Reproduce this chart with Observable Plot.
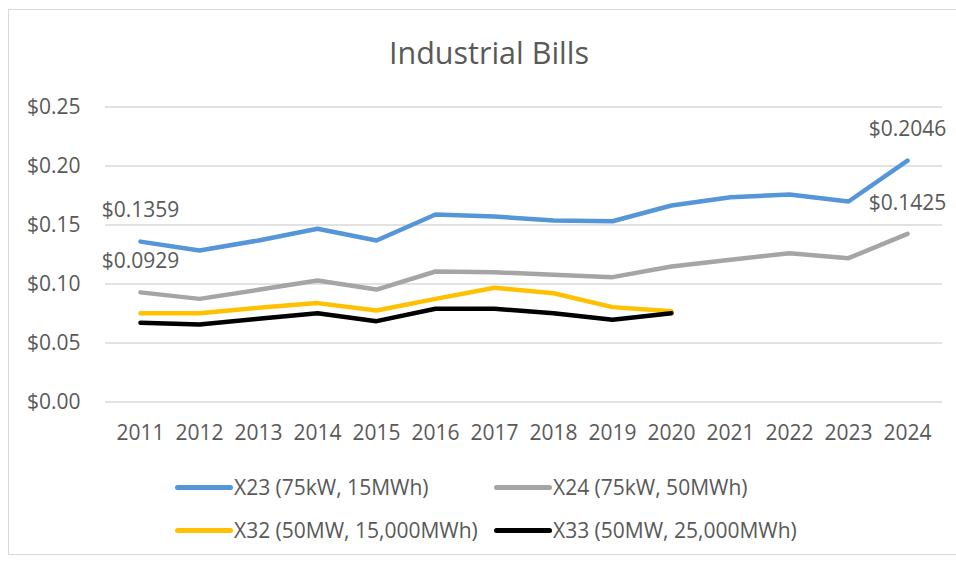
<!DOCTYPE html>
<html>
<head>
<meta charset="utf-8">
<script src="https://cdn.jsdelivr.net/npm/d3@7"></script>
<script src="https://cdn.jsdelivr.net/npm/@observablehq/plot@0.6"></script>
<style>
  html, body { margin: 0; padding: 0; background: #fff; }
  body { width: 956px; height: 561px; position: relative; overflow: hidden; font-family: "Open Sans", sans-serif; color: #595959; }
  #frame { position: absolute; left: 8px; top: 9px; width: 948px; height: 546px; border-left: 1px solid #d9d9d9; border-top: 1px solid #d9d9d9; border-bottom: 1px solid #d9d9d9; border-right: none; box-sizing: border-box; }
  #title { position: absolute; left: 0; top: 32px; width: 978px; text-align: center; font-size: 30.5px; line-height: 40px; color: #595959; }
  #chart { position: absolute; left: 0; top: 0; }
  .leg { position: absolute; display: flex; align-items: center; font-size: 21px; line-height: 30px; white-space: nowrap; color: #595959; }
  .sw { display: inline-block; width: 58px; height: 5px; border-radius: 3px; margin-right: 1px; }
</style>
</head>
<body>
<div id="frame"></div>
<div id="title">Industrial Bills</div>
<div id="chart"></div>
<div id="legend"></div>
<script>
const years = ["2011","2012","2013","2014","2015","2016","2017","2018","2019","2020","2021","2022","2023","2024"];
const seriesNames = ["X23 (75kW, 15MWh)", "X24 (75kW, 50MWh)", "X32 (50MW, 15,000MWh)", "X33 (50MW, 25,000MWh)"];
const seriesColors = ["#5596d8", "#a5a5a5", "#ffc000", "#000000"];
const x23 = [0.1359, 0.1284, 0.1369, 0.1468, 0.1369, 0.1589, 0.1572, 0.1538, 0.1532, 0.1665, 0.1736, 0.1758, 0.1699, 0.2046];
const x24 = [0.0929, 0.0874, 0.0951, 0.1030, 0.0953, 0.1106, 0.1100, 0.1078, 0.1058, 0.1148, 0.1205, 0.1261, 0.1219, 0.1425];
const x32 = [0.0753, 0.0753, 0.0798, 0.0838, 0.0775, 0.0874, 0.0968, 0.0922, 0.0804, 0.0770];
const x33 = [0.0671, 0.0657, 0.0705, 0.0753, 0.0685, 0.0790, 0.0790, 0.0753, 0.0697, 0.0753];
const yTicks = [0, 0.05, 0.10, 0.15, 0.20, 0.25];
const labelYears = ["2011", "2011", "2024", "2024"];
const labelValues = [0.1359, 0.0929, 0.2046, 0.1425];
const labelTexts = ["$0.1359", "$0.0929", "$0.2046", "$0.1425"];

const allSeries = [x23, x24, x32, x33];
const rows = [];
allSeries.forEach((vals, si) => vals.forEach((v, i) => rows.push({year: years[i], value: v, series: seriesNames[si]})));
const labels = labelYears.map((yr, i) => ({year: yr, value: labelValues[i], text: labelTexts[i]}));

const chart = Plot.plot({
  width: 956,
  height: 440,
  marginLeft: 105,
  marginRight: 14,
  marginTop: 106.5,
  marginBottom: 38.5,
  style: {fontFamily: "Open Sans, sans-serif", fontSize: "21px", color: "#595959", background: "transparent", overflow: "visible"},
  x: {type: "point", domain: years, padding: 0.5},
  y: {domain: [0, 0.25]},
  color: {domain: seriesNames, range: seriesColors},
  marks: [
    Plot.gridY(yTicks, {stroke: "#d9d9d9", strokeOpacity: 1, strokeWidth: 1.5}),
    Plot.axisX({tickSize: 0, tickPadding: 23, tickFormat: d => d, fontSize: 21, fill: "#595959", label: null}),
    Plot.axisY(yTicks, {tickSize: 0, tickPadding: 25, tickFormat: d3.format("$.2f"), fontSize: 21, fill: "#595959", label: null}),
    Plot.lineY(rows, {x: "year", y: "value", z: "series", stroke: "series", strokeWidth: 4.5, strokeLinecap: "round", strokeLinejoin: "round"}),
    Plot.text(labels, {x: "year", y: "value", text: "text", dy: -31, fontSize: 21, fill: "#595959"})
  ]
});
document.getElementById("chart").appendChild(chart);

const legendPos = [[175, 487], [494, 487], [175, 530], [494, 530]];
const legend = document.getElementById("legend");
seriesNames.forEach((name, i) => {
  const d = document.createElement("div");
  d.className = "leg";
  d.style.left = legendPos[i][0] + "px";
  d.style.top = (legendPos[i][1] - 15) + "px";
  const sw = document.createElement("span");
  sw.className = "sw";
  sw.style.background = seriesColors[i];
  d.appendChild(sw);
  d.appendChild(document.createTextNode(name));
  legend.appendChild(d);
});
</script>
</body>
</html>
